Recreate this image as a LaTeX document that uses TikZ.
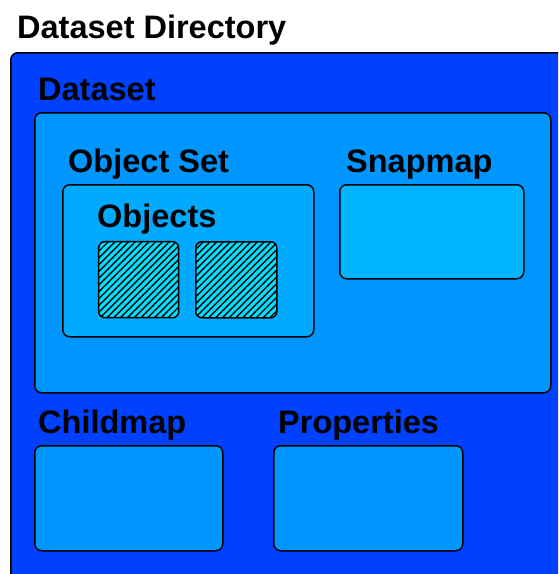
\documentclass[tikz,border=0pt]{standalone}
\usepackage{fontspec}
\setmainfont{Liberation Sans}
\usetikzlibrary{positioning,patterns.meta}
\definecolor{dirblue}{RGB}{0,64,255}
\definecolor{setblue}{RGB}{0,150,255}
\definecolor{objsetblue}{RGB}{0,170,255}
\definecolor{snapblue}{RGB}{0,180,255}
\definecolor{objcyan}{RGB}{0,225,255}
\tikzset{
         box/.style = { draw=black, line width=1.5pt, rounded corners=7pt, inner sep=0pt, anchor=north west },
       title/.style = { anchor=base west, inner sep=0pt, font=\bfseries\fontsize{32.5}{32.5}\selectfont },
     hatched/.style = { box, rounded corners=6pt, preaction={fill=objcyan},
                        pattern={Lines[angle=45,distance=4.8pt,line width=1.4pt]} }
}

\begin{document}
\begin{tikzpicture}[x=1pt, y=-1pt]
  \useasboundingbox (0,0) rectangle (558,574);
  \clip (0,0) rectangle (558,574);
  % boxes
  \node[box, fill=dirblue, minimum width=620pt, minimum height=600pt] (dir) at (10,52) {};
  \node[box, fill=setblue, minimum width=516pt, minimum height=280pt] (dataset) at (34,112) {};
  \node[box, fill=objsetblue, minimum width=251pt, minimum height=152pt] (objset) at (62,184) {};
  \node[box, fill=snapblue, minimum width=184pt, minimum height=94pt] (snapmap) at (339,184) {};
  \node[hatched, minimum width=80pt, minimum height=76pt] (obja) at (98,241) {};
  \node[hatched, minimum width=81pt, minimum height=76pt] (objb) at (195,241) {};
  \node[box, fill=setblue, minimum width=188pt, minimum height=105pt] (childmap) at (34,445) {};
  \node[box, fill=setblue, minimum width=189pt, minimum height=105pt] (props) at (273,445) {};

  % labels
  \node[title] (dirlabel) at (17,38) {Dataset Directory};
  \node[title] (datasetlabel) at (38,100) {Dataset};
  \node[title] (objsetlabel) at (68,172) {Object Set};
  \node[title] (objectslabel) at (97,227) {Objects};
  \node[title] (snaplabel) at (346,172) {Snapmap};
  \node[title] (childlabel) at (38,433) {Childmap};
  \node[title] (propslabel) at (278,433) {Properties};
\end{tikzpicture}
\end{document}
